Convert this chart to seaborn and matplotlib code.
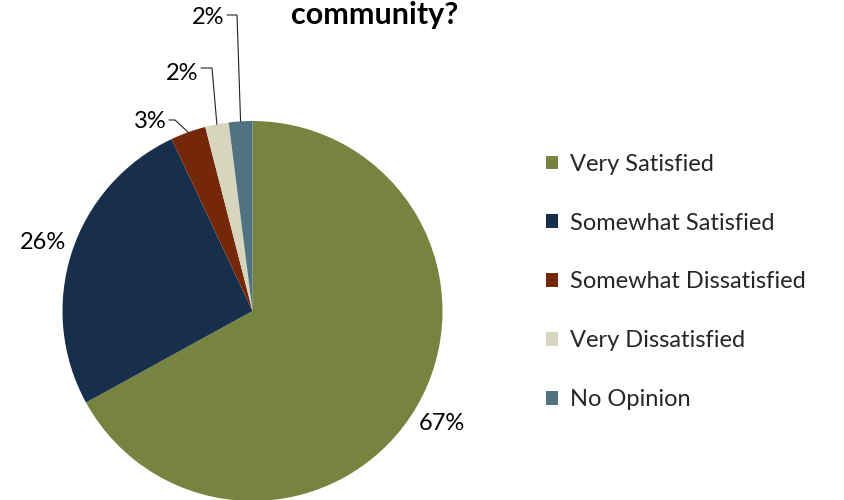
import matplotlib
matplotlib.use("Agg")
import matplotlib.pyplot as plt
import numpy as np
import seaborn as sns
from matplotlib.patches import Patch

categories = ["Very Satisfied", "Somewhat Satisfied", "Somewhat Dissatisfied",
              "Very Dissatisfied", "No Opinion"]
shares = [67, 26, 3, 2, 2]
labels = ["67%", "26%", "3%", "2%", "2%"]
colors = ["#77843F", "#172F4B", "#752709", "#D8D5BF", "#4F7380"]

sns.set_theme(style="white")
plt.rcParams["font.family"] = ["Lato", "DejaVu Sans"]

FS = 17
fig = plt.figure(figsize=(8.44, 5.0), dpi=100)
W, H = 844, 500
cx, cy, R = 252.5, 311, 190
ax = fig.add_axes([(cx - R) / W, (H - cy - R) / H, 2 * R / W, 2 * R / H])

wedges, _ = ax.pie(shares, colors=colors, startangle=90, counterclock=False,
                   radius=1, wedgeprops=dict(linewidth=0))
ax.set_xlim(-1, 1)
ax.set_ylim(-1, 1)
ax.set_aspect("equal")
ax.axis("off")


def px(x, y):
    """Pixel position (from top-left of the figure) to pie data coords."""
    return (x - cx) / R, (cy - y) / R


# big slices: labels just outside the rim at mid angle
for w, lab in zip(wedges[:2], labels[:2]):
    mid = np.deg2rad((w.theta1 + w.theta2) / 2)
    ax.text(1.16 * np.cos(mid), 1.16 * np.sin(mid), lab, ha="center", va="center",
            fontsize=FS, color="black")

# small slices: labels pulled up with elbow leader lines
label_pos = [(150, 122), (182, 73), (208, 18)]
elbow_pos = [(175, 120), (212, 68), (237, 15)]
for w, lab, lp, ep in zip(wedges[2:], labels[2:], label_pos, elbow_pos):
    mid = np.deg2rad((w.theta1 + w.theta2) / 2)
    tx, ty = px(*lp)
    ex, ey = px(*ep)
    ax.text(tx, ty, lab, ha="center", va="center", fontsize=FS, color="black")
    sx, _ = px(lp[0] + 19, lp[1])
    ax.plot([sx, ex, np.cos(mid)], [ey, ey, np.sin(mid)], color="#222222",
            linewidth=0.8, clip_on=False)

handles = [Patch(facecolor=c, edgecolor="none") for c in colors]
fig.legend(handles, categories, loc="center left", bbox_to_anchor=(546 / W, 1 - 282 / H),
           frameon=False, fontsize=FS, handlelength=0.52, handleheight=0.52,
           handletextpad=0.5, labelspacing=1.6, borderpad=0, borderaxespad=0)

fig.text(375 / W, 1 - 15 / H, "community?", ha="center", va="center",
         fontsize=22, fontweight="bold", color="black")

fig.savefig("out.png", dpi=100)
